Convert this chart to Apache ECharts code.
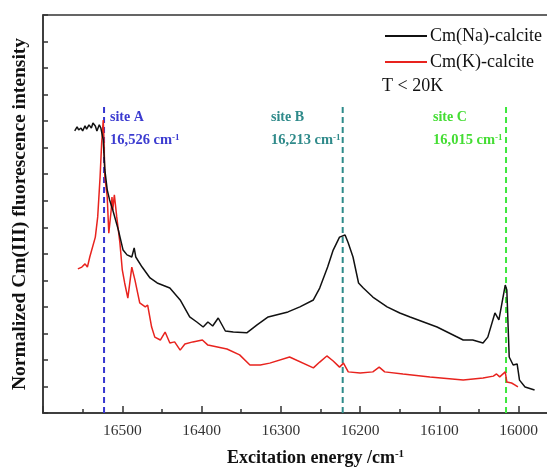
<!DOCTYPE html>
<html>
<head>
<meta charset="utf-8">
<script src="https://cdn.jsdelivr.net/npm/echarts@6/dist/echarts.min.js"></script>
<style>
html,body{margin:0;padding:0;background:#fff;}
#chart{width:547px;height:471px;}
</style>
</head>
<body>
<div id="chart"></div>
<script>
// Cm(Na)-calcite (black)
const naX = [16560,16557,16555,16552,16550,16547,16545,16542,16539,16537,16534,16532,16529,16527,16524,16522,16519,16516,16512,16505,16499,16494,16488,16485,16483,16475,16465,16456,16440,16427,16415,16406,16398,16392,16386,16379,16370,16360,16343,16330,16316,16291,16276,16259,16251,16241,16234,16226,16219,16215,16209,16202,16196,16184,16166,16150,16137,16103,16070,16058,16045,16039,16030,16028,16025,16017,16015,16012,16007,16002,15999,15992,15980];
const naY = [10.63,10.78,10.67,10.74,10.63,10.82,10.70,10.86,10.74,10.93,10.82,10.63,10.86,10.74,10.29,9.16,8.41,8.03,7.65,6.90,6.14,5.96,5.88,6.22,5.88,5.50,5.09,4.90,4.71,4.26,3.62,3.43,3.24,3.43,3.28,3.58,3.09,3.05,3.02,3.32,3.62,3.81,4.00,4.26,4.71,5.50,6.14,6.63,6.71,6.41,5.88,4.90,4.71,4.37,4.00,3.77,3.62,3.24,2.75,2.75,2.64,2.86,3.77,3.81,3.51,4.82,4.64,2.11,1.81,1.85,1.24,0.98,0.87];
// Cm(K)-calcite (red)
const kX = [16556,16551,16547,16544,16541,16534,16531,16528,16526,16524,16523,16522,16519,16517,16514,16513,16512,16510,16507,16503,16500,16497,16493,16488,16484,16478,16471,16468,16463,16459,16452,16446,16440,16434,16427,16421,16411,16399,16392,16368,16352,16339,16326,16314,16289,16259,16251,16242,16234,16226,16221,16215,16200,16184,16176,16169,16146,16112,16070,16045,16032,16028,16024,16017,16015,16009,16005,16001];
const kY = [5.43,5.50,5.62,5.50,5.88,6.63,7.39,8.90,10.18,11.04,10.18,8.90,8.14,6.78,7.65,8.14,7.65,8.22,7.39,6.41,5.39,4.90,4.33,5.50,5.01,4.15,4.00,4.07,3.24,2.86,2.75,3.05,2.64,2.68,2.37,2.60,2.68,2.75,2.56,2.41,2.19,1.81,1.81,1.88,2.11,1.70,1.92,2.15,1.96,1.73,1.88,1.55,1.51,1.55,1.73,1.55,1.47,1.36,1.24,1.32,1.39,1.47,1.36,1.55,1.17,1.13,1.06,0.98];
// Site markers
const siteNames = ['site A','site B','site C'];
const siteLabels = ['16,526','16,213','16,015'];
const siteX = [16523,16222,16016];
const siteTop = 11.6;
const xTicks = [16000,16100,16200,16300,16400,16500];

const zip = (xs, ys) => xs.map((x, i) => [x, ys[i]]);
const siteColors = ['#3636d0','#2e8b8b','#3de83d'];
const siteTextColors = ['#3b3bd0','#2f8a8a','#44dd33'];

const chart = echarts.init(document.getElementById('chart'), null, {renderer:'canvas'});
const serif = 'Liberation Serif, Times New Roman, serif';

const siteSeries = siteX.map((x, i) => ({
  type: 'line', name: siteNames[i], data: [[x, 0], [x, siteTop]],
  symbol: 'none', silent: true, z: 1,
  lineStyle: {color: siteColors[i], width: 2, type: [6, 4]}
}));

const textLeft = [110, 271, 433];
const graphics = [];
siteNames.forEach((n, i) => {
  graphics.push({type:'text', left: textLeft[i], top: 110, style:{text: n, font: 'bold 14px ' + serif, fill: siteTextColors[i]}});
  graphics.push({type:'text', left: textLeft[i], top: 133, style:{
    text: '{a|' + siteLabels[i] + ' cm}{s|-1}',
    rich: {a:{font:'bold 14.5px ' + serif, fill: siteTextColors[i], color: siteTextColors[i]},
           s:{font:'bold 9px ' + serif, color: siteTextColors[i], verticalAlign:'top', fill: siteTextColors[i]}}
  }});
});
graphics.push({type:'text', left: 382, top: 77, style:{text:'T < 20K', font:'18px ' + serif, fill:'#111'}});

chart.setOption({
  animation: false,
  backgroundColor: '#fff',
  grid: {left: 43, top: 15, right: -51, bottom: 58, show: true, borderColor: '#333', borderWidth: 1.5,
         outerBoundsMode: 'none', containLabel: false},
  legend: {
    data: ['Cm(Na)-calcite', 'Cm(K)-calcite'],
    orient: 'vertical', left: 380, top: 22,
    icon: 'rect', itemWidth: 42, itemHeight: 2, itemGap: 8,
    textStyle: {fontFamily: serif, fontSize: 18, color: '#111', padding: [0,0,0,-2], lineHeight: 18},
    selectedMode: false
  },
  xAxis: {
    type: 'value', inverse: true, min: 15900, max: 16600, interval: 100,
    name: '{a|Excitation energy /cm}{s|-1}', nameLocation: 'middle', nameGap: 36,
    nameTextStyle: {rich: {
      a: {fontFamily: serif, fontWeight: 'bold', fontSize: 18, color: '#111'},
      s: {fontFamily: serif, fontWeight: 'bold', fontSize: 11, color: '#111', verticalAlign: 'top'}
    }, padding: [0, 10, 0, 0]},
    axisLine: {lineStyle: {color: '#333', width: 1.5}},
    axisTick: {inside: true, length: 7, lineStyle: {color: '#333', width: 1.5}},
    minorTick: {show: true, splitNumber: 2, length: 4, lineStyle: {color: '#333', width: 1.5}},
    splitLine: {show: false},
    axisLabel: {fontFamily: serif, fontSize: 15.5, color: '#333', margin: 10, showMaxLabel: false,
      formatter: v => xTicks.includes(v) ? String(v) : ''}
  },
  yAxis: {
    type: 'value', min: 0, max: 15, interval: 1,
    name: 'Normalized Cm(III) fluorescence intensity', nameLocation: 'middle', nameGap: 13,
    nameTextStyle: {fontFamily: serif, fontWeight: 'bold', fontSize: 19.5, color: '#111'},
    axisLine: {show: true, lineStyle: {color: '#333', width: 1.5}},
    axisTick: {show: true, inside: true, length: 5, lineStyle: {color: '#333', width: 1.5}},
    splitLine: {show: false},
    axisLabel: {show: false}
  },
  graphic: graphics,
  series: [
    {type: 'line', name: 'Cm(Na)-calcite', data: zip(naX, naY), symbol: 'none', z: 3,
     lineStyle: {color: '#111', width: 1.5}, itemStyle: {color: '#111'}},
    {type: 'line', name: 'Cm(K)-calcite', data: zip(kX, kY), symbol: 'none', z: 2,
     lineStyle: {color: '#e8231e', width: 1.5}, itemStyle: {color: '#e8231e'}},
    ...siteSeries
  ]
});
</script>
</body>
</html>
